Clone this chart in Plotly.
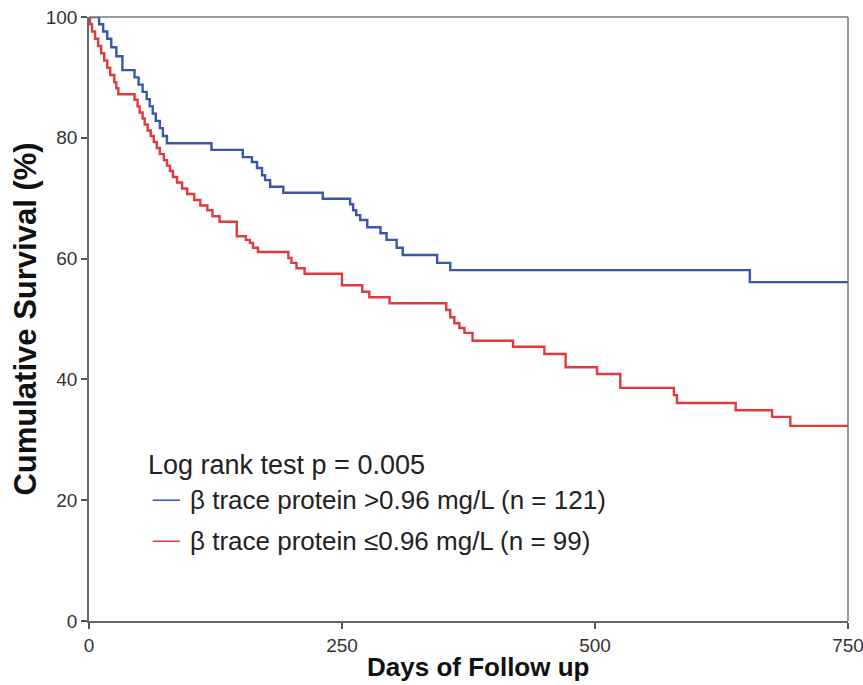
import plotly.graph_objects as go

# Kaplan-Meier step points (days, cumulative survival %)
high_days = [0, 10, 14, 18, 22, 27, 33, 45, 49, 53, 57, 60, 63, 66, 70, 73, 77,
             121, 152, 161, 166, 171, 174, 179, 192, 231, 258, 261, 264, 268,
             275, 288, 294, 304, 310, 344, 357, 653, 750]
high_surv = [100, 98.8, 97.6, 96.4, 95.0, 93.5, 91.2, 90.0, 88.8, 87.6, 86.4,
             85.2, 84.0, 82.8, 81.6, 80.3, 79.1, 78.0, 76.8, 76.0, 75.0, 73.8,
             73.0, 71.9, 70.9, 69.9, 69.0, 68.0, 67.2, 66.4, 65.2, 64.2, 63.1,
             61.8, 60.6, 59.3, 58.1, 56.1, 56.1]

low_days = [0, 1, 3, 6, 9, 12, 15, 18, 21, 25, 27, 29, 45, 48, 50, 53, 55, 58,
            61, 64, 67, 70, 74, 77, 80, 83, 87, 92, 97, 104, 110, 117, 122, 129,
            146, 155, 159, 162, 167, 197, 200, 205, 213, 250, 270, 277, 297,
            353, 357, 361, 366, 371, 379, 419, 450, 471, 502, 525, 578, 581,
            639, 675, 693, 750]
low_surv = [100, 98.8, 97.6, 96.4, 95.2, 94.0, 92.8, 91.6, 90.4, 89.2, 88.2,
            87.2, 86.3, 85.2, 84.2, 83.2, 82.2, 81.2, 80.3, 79.3, 78.3, 77.3,
            76.3, 75.4, 74.5, 73.5, 72.6, 71.6, 70.7, 69.7, 68.8, 68.0, 67.0,
            66.1, 63.7, 63.1, 62.6, 61.8, 61.1, 60.1, 59.3, 58.4, 57.5, 55.6,
            54.5, 53.6, 52.6, 51.5, 50.3, 49.3, 48.5, 47.7, 46.4, 45.4, 44.2,
            42.0, 40.9, 38.6, 37.4, 36.1, 34.9, 33.8, 32.3, 32.3]

x_ticks = [0, 250, 500, 750]
y_ticks = [0, 20, 40, 60, 80, 100]

BLUE = "#3b55a9"
RED = "#e4393c"
FONT = "Liberation Sans, Arial, sans-serif"

fig = go.Figure()
fig.add_trace(go.Scatter(x=low_days, y=low_surv, mode="lines",
                         line=dict(color=RED, width=2.4, shape="hv"),
                         showlegend=False, hoverinfo="skip"))
fig.add_trace(go.Scatter(x=high_days, y=high_surv, mode="lines",
                         line=dict(color=BLUE, width=2.4, shape="hv"),
                         showlegend=False, hoverinfo="skip"))

axis_common = dict(showgrid=False, zeroline=False, showline=True,
                   linecolor="#666666", linewidth=1.5, ticks="outside",
                   ticklen=6, tickwidth=1.5, tickcolor="#555555",
                   tickfont=dict(family=FONT, size=19, color="#333333"),
                   ticklabeloverflow="allow",
                   mirror=False, automargin=False)

fig.update_xaxes(range=[0, 750], tickvals=x_ticks, **axis_common)
fig.update_yaxes(range=[0, 100], tickvals=y_ticks, **axis_common,
                 title=dict(text="<b>Cumulative Survival (%)</b>",
                            font=dict(family=FONT, size=31, color="#111111"),
                            standoff=0))

# x-axis title, set slightly right of the plot centre
fig.add_annotation(xref="paper", yref="paper", x=0.513, y=-0.076,
                   xanchor="center", yanchor="middle", showarrow=False,
                   text="<b>Days of Follow up</b>",
                   font=dict(family=FONT, size=26, color="#111111"))

# top and right frame lines
fig.add_shape(type="line", xref="paper", yref="paper", x0=0, x1=1, y0=1, y1=1,
              line=dict(color="#777777", width=1.5))
fig.add_shape(type="line", xref="paper", yref="paper", x0=1, x1=1, y0=0, y1=1,
              line=dict(color="#777777", width=1.5))

# key
fig.add_annotation(xref="paper", yref="paper", x=0.075, y=0.258,
                   xanchor="left", yanchor="middle", showarrow=False,
                   text="Log rank test p = 0.005",
                   font=dict(family=FONT, size=27, color="#222222"))
key_rows = [(BLUE, "β trace protein >0.96 mg/L (n = 121)", 0.200),
            (RED, "β trace protein ≤0.96 mg/L (n = 99)", 0.132)]
for color, label, yp in key_rows:
    fig.add_shape(type="line", xref="paper", yref="paper",
                  x0=0.084, x1=0.120, y0=yp, y1=yp,
                  line=dict(color=color, width=1.5))
    fig.add_annotation(xref="paper", yref="paper", x=0.131, y=yp,
                       xanchor="left", yanchor="middle", showarrow=False,
                       text=label,
                       font=dict(family=FONT, size=26, color="#222222"))

fig.update_layout(width=863, height=685,
                  margin=dict(l=89, r=15, t=17, b=64),
                  plot_bgcolor="white", paper_bgcolor="white")

fig.write_html("out.html")
